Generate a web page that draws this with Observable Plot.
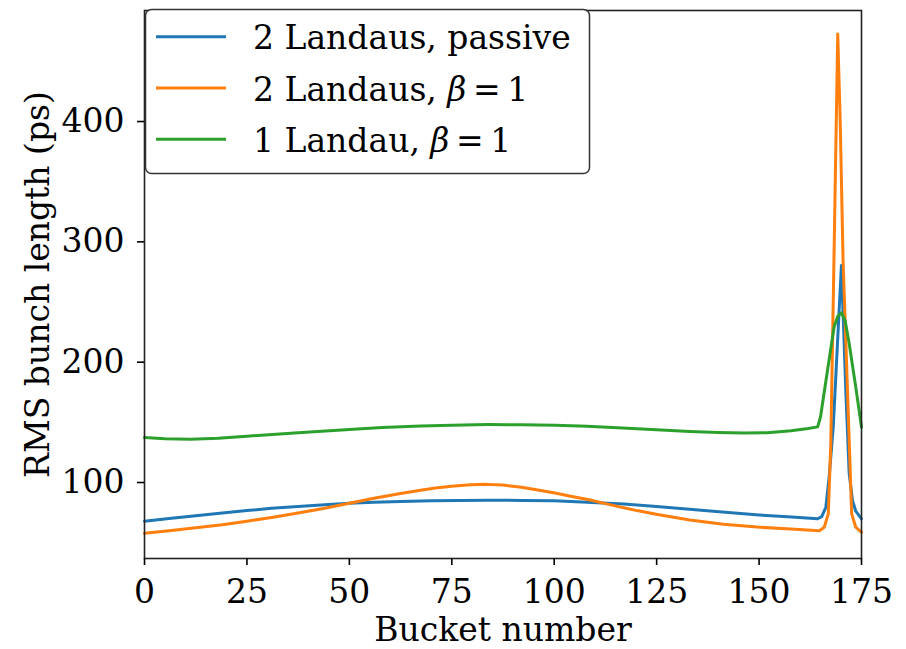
<!DOCTYPE html>
<html>
<head>
<meta charset="utf-8">
<script src="https://cdn.jsdelivr.net/npm/d3@7"></script>
<script src="https://cdn.jsdelivr.net/npm/@observablehq/plot@0.6"></script>
<style>
  body { margin: 0; background: #fff; }
  #chart { width: 906px; height: 649px; }
</style>
</head>
<body>
<div id="chart"></div>
<script>
// ---- data ----
const xTicks = [0, 25, 50, 75, 100, 125, 150, 175];
const yTicks = [100, 200, 300, 400];
const seriesNames = ["2 Landaus, passive", "2 Landaus, β = 1", "1 Landau, β = 1"];
const seriesColors = ["#1f77b4", "#ff7f0e", "#2ca02c"];

const passiveBucket = [0, 6, 12.5, 19, 25, 31, 37.5, 44, 50, 56, 62.5, 70, 77, 84, 92, 100, 108, 117, 125, 133, 141, 150, 157, 164.3, 165.3, 166.3, 167.1, 168.1, 170.1, 171.2, 172, 172.8, 173.6, 175];
const passiveLength = [66.2, 68.4, 70.8, 73, 75, 76.9, 78.5, 79.9, 81.1, 82, 82.5, 83.2, 83.5, 83.6, 83.5, 83.2, 82, 80.4, 78.4, 76.1, 73.8, 71.4, 69.8, 68.2, 70, 77.8, 102.7, 144.3, 278.7, 172, 105.5, 83.4, 74.5, 68.2];

const twoBetaBucket = [0, 6, 12.5, 19, 25, 31, 37.5, 44, 50, 56, 62.5, 67.4, 71, 75, 79.5, 83.6, 87.5, 92, 96, 100.2, 104, 108.5, 112.5, 116.7, 120.5, 124.9, 133.1, 141.3, 149.5, 157.8, 164.7, 165.9, 166.9, 167.5, 168.3, 169.2, 169.8, 170.5, 171.5, 172.6, 173.6, 175];
const twoBetaLength = [56.2, 58.2, 60.8, 63.3, 66.2, 69.3, 73, 77, 81.1, 85.3, 89.2, 91.9, 93.7, 95.3, 96.5, 96.8, 96.2, 94.4, 92.2, 89.6, 87, 84, 80.8, 77.6, 74.8, 72, 67.2, 63.6, 61.3, 59.7, 58.3, 61.2, 72.3, 130, 288, 471, 399, 283, 183, 72.3, 61.2, 57];

const oneBetaBucket = [0, 5, 11.2, 18, 25, 37.5, 50, 58, 67.4, 75, 83.8, 92, 100.2, 108, 116.7, 125, 133.1, 140, 146.3, 152, 157.8, 162, 164.3, 165, 166.7, 168.3, 169.2, 170.1, 171, 172, 173.6, 175];
const oneBetaLength = [135.7, 134.7, 134.2, 135.2, 136.8, 139.8, 142.4, 144, 145.3, 146, 146.5, 146.4, 145.9, 145, 143.6, 142.1, 140.8, 139.9, 139.4, 139.8, 141.4, 143.2, 144.6, 153, 191.4, 227.4, 236.5, 239.4, 233, 213.6, 177.6, 144.3];

const toRows = (xs, ys) => xs.map((b, i) => ({bucket: b, length: ys[i]}));
const passive = toRows(passiveBucket, passiveLength);
const twoBeta = toRows(twoBetaBucket, twoBetaLength);
const oneBeta = toRows(oneBetaBucket, oneBetaLength);

const font = '"DejaVu Serif", serif';
const fs = 33;

const chart = Plot.plot({
  width: 906,
  height: 649,
  marginLeft: 144,
  marginRight: 45,
  marginTop: 10,
  marginBottom: 91,
  style: {fontFamily: font, fontSize: fs + "px", background: "#fff", color: "#000", overflow: "visible"},
  x: {domain: [0, 175]},
  y: {domain: [35.2, 490.6]},
  marks: [
    Plot.line(passive, {x: "bucket", y: "length", stroke: seriesColors[0], strokeWidth: 3}),
    Plot.line(twoBeta, {x: "bucket", y: "length", stroke: seriesColors[1], strokeWidth: 3}),
    Plot.line(oneBeta, {x: "bucket", y: "length", stroke: seriesColors[2], strokeWidth: 3}),
    Plot.frame({stroke: "#222", strokeWidth: 1.6}),
    Plot.axisX({ticks: xTicks, tickSize: 7, tickPadding: 14, label: null, strokeWidth: 1.6, fontSize: fs}),
    Plot.axisY({ticks: yTicks, tickSize: 7, tickPadding: 13, label: null, dy: 2, strokeWidth: 1.6, fontSize: fs}),
    Plot.text(["Bucket number"], {frameAnchor: "bottom", dy: 72, lineAnchor: "middle", textAnchor: "middle", fontSize: fs}),
    Plot.text(["RMS bunch length (ps)"], {frameAnchor: "left", dx: -106, rotate: -90, lineAnchor: "middle", textAnchor: "middle", fontSize: fs})
  ]
});

document.getElementById("chart").appendChild(chart);

// ---- legend (inside the axes, top-left) ----
const svg = d3.select(chart);
const lg = svg.append("g").attr("font-family", font).attr("font-size", fs).attr("text-anchor", "start");
lg.append("rect")
  .attr("x", 145.5).attr("y", 9.5).attr("width", 444).attr("height", 164)
  .attr("rx", 6).attr("fill", "#fff").attr("stroke", "#333").attr("stroke-width", 1.5);
const rowBase = [49.3, 100.5, 151.7];
seriesNames.forEach((name, i) => {
  const yb = rowBase[i];
  lg.append("line")
    .attr("x1", 156).attr("x2", 226).attr("y1", yb - 12.5).attr("y2", yb - 12.5)
    .attr("stroke", seriesColors[i]).attr("stroke-width", 3);
  const t = lg.append("text").attr("x", 253).attr("y", yb).attr("fill", "#000").attr("text-anchor", "start");
  const parts = name.split("β");
  if (parts.length === 1) {
    t.text(name);
  } else {
    t.append("tspan").text(parts[0]);
    t.append("tspan").attr("font-style", "italic").text("β");
    t.append("tspan").text(parts[1].replace(/ = /, "\u2009=\u2009"));
  }
});
</script>
</body>
</html>
